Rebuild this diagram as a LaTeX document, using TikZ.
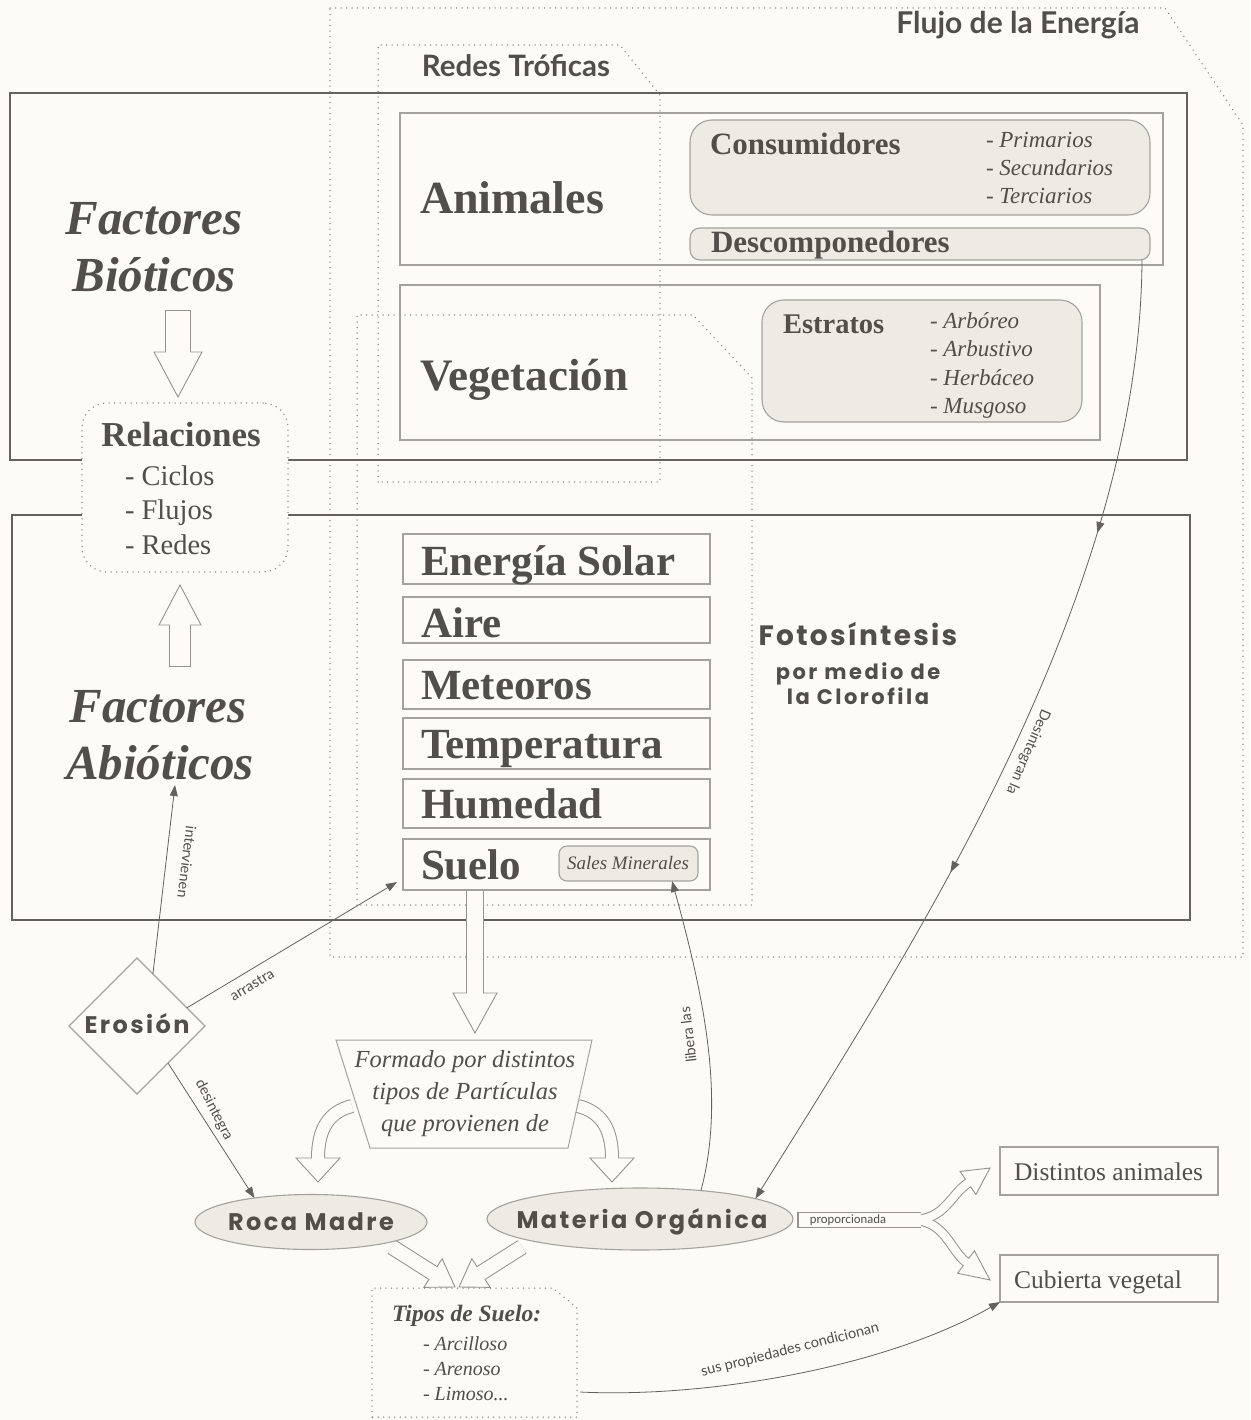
\documentclass[tikz,border=0pt]{standalone}
\usepackage{fontspec}
\setmainfont{Liberation Serif}
\newfontfamily\hsans{Lato}
\newfontfamily\geo{Poppins}
\usetikzlibrary{arrows.meta,shapes.geometric,decorations.markings,calc}
\definecolor{bg}{RGB}{252,251,246}
\definecolor{txt}{RGB}{82,78,74}
\definecolor{frm}{RGB}{100,97,94}
\definecolor{boxc}{RGB}{165,162,158}
\definecolor{boxf}{RGB}{238,235,228}
\definecolor{dotc}{RGB}{135,132,128}
\definecolor{lnc}{RGB}{100,97,94}
\definecolor{hc}{RGB}{150,147,143}
\newcommand\fsz[2]{\fontsize{#1}{#2}\selectfont}
% hollow straight arrow: start, base, tip, outer width, inner width, half head, inner start
\newcommand\harrow[7]{%
  \draw[hc, line width=#4] #1 -- #2;
  \draw[hc, line width=0.9pt, fill=bg, line join=miter] #3 -- ($#2!#6!90:#3$) -- ($#2!#6!-90:#3$) -- cycle;
  \draw[bg, line width=#5] #7 -- ($#2!1.5pt!#3$);
}
\begin{document}
\begin{tikzpicture}[x=1pt,y=-1pt,
  every node/.style={text=txt, inner sep=0pt, outer sep=0pt},
  bigframe/.style={draw=frm, line width=1.6pt},
  ibox/.style={draw=boxc, line width=1.2pt, anchor=north west},
  rbox/.style={draw=boxc, line width=1.1pt, fill=boxf, anchor=north west},
  dotf/.style={draw=dotc, line width=1.5pt, dash pattern=on 0pt off 5.5pt, line cap=round},
  conn/.style={draw=lnc, line width=0.8pt, -{Triangle[length=11pt,width=8pt]}},
  lbl/.style={font=\hsans\fsz{14.5}{16}},
  bigt/.style={font=\bfseries\fsz{43}{48}, anchor=base west},
  fact/.style={font=\bfseries\itshape\fsz{49}{52}, anchor=base},
  subt/.style={font=\bfseries\fsz{31}{34}, anchor=base west},
  listi/.style={font=\itshape\fsz{23}{26}, anchor=base west},
  geot/.style={font=\geo\bfseries\addfontfeature{LetterSpace=10}\fsz{24}{26}, anchor=base}
]
\fill[bg] (0,0) rectangle (1250,1420);
\useasboundingbox (0,0) rectangle (1250,1420);

% dotted group frames
\draw[dotf] (330,8) -- (1165,8) -- (1243,125) -- (1243,957) -- (330,957) -- cycle;
\draw[dotf] (378,482) -- (378,45) -- (620,45) -- (660,95) -- (660,482) -- cycle;
\draw[dotf] (357,905) -- (357,315) -- (693,315) -- (752,378) -- (752,905) -- cycle;

% solid frames
\draw[bigframe] (10,93) rectangle (1187,460);
\draw[bigframe] (12,515) rectangle (1190,920);

% hollow arrows
\harrow{(178,310)}{(178,352)}{(178,397)}{26pt}{24pt}{24pt}{(178,311.4)}
\harrow{(180,667)}{(180,625)}{(180,585)}{22pt}{20pt}{21pt}{(180,665.6)}
\harrow{(475,890)}{(475,993)}{(475,1033)}{18pt}{16pt}{22pt}{(475,891)}
\harrow{(392,1247)}{(433,1273)}{(455,1287)}{16pt}{14pt}{17pt}{(392,1247)}
\harrow{(522,1247)}{(481,1273)}{(459,1287)}{16pt}{14pt}{17pt}{(522,1247)}
% curved hollow arrows from the trapezoid
\draw[hc, line width=14pt] (352,1106) .. controls (328,1112) and (318,1130) .. (318,1158);
\draw[hc, line width=14pt] (578,1106) .. controls (602,1112) and (612,1130) .. (612,1158);
\draw[hc, line width=0.9pt, fill=bg, line join=miter] (318,1182) -- (296,1158) -- (340,1158) -- cycle;
\draw[hc, line width=0.9pt, fill=bg, line join=miter] (612,1182) -- (590,1158) -- (634,1158) -- cycle;
\draw[bg, line width=12pt] (352,1106) .. controls (328,1112) and (318,1130) .. (318,1158) -- (318,1159.5);
\draw[bg, line width=12pt] (578,1106) .. controls (602,1112) and (612,1130) .. (612,1158) -- (612,1159.5);
% proporcionada branching arrow
\draw[hc, line width=16pt] (797,1220) -- (921,1220);
\draw[hc, line width=10pt] (912,1220) .. controls (945,1220) and (950,1195) .. (968,1183);
\draw[hc, line width=10pt] (912,1220) .. controls (945,1220) and (950,1250) .. (966,1262);
\draw[hc, line width=0.9pt, fill=bg, line join=miter] (990,1168) -- ($(968,1183)!14pt!90:(990,1168)$) -- ($(968,1183)!14pt!-90:(990,1168)$) -- cycle;
\draw[hc, line width=0.9pt, fill=bg, line join=miter] (990,1280) -- ($(966,1262)!14pt!90:(990,1280)$) -- ($(966,1262)!14pt!-90:(990,1280)$) -- cycle;
\draw[bg, line width=14pt] (798.6,1220) -- (921,1220);
\draw[bg, line width=8pt] (912,1220) .. controls (945,1220) and (950,1195) .. (968,1183) -- ($(968,1183)!1.5pt!(990,1168)$);
\draw[bg, line width=8pt] (912,1220) .. controls (945,1220) and (950,1250) .. (966,1262) -- ($(966,1262)!1.5pt!(990,1280)$);
\node[font=\hsans\fsz{12}{12}] (prop) at (848,1220) {proporcionada};

% titles
\node[font=\hsans\bfseries\fsz{30}{32}, anchor=base] (flujo) at (1018,34) {Flujo de la Energía};
\node[font=\hsans\bfseries\fsz{29.5}{32}, anchor=base] (redes) at (516,77) {Redes Tróficas};

% factores
\node[fact] (fb1) at (154,235) {Factores};
\node[fact] (fb2) at (154,291) {Bióticos};
\node[fact] (fa1) at (158,722) {Factores};
\node[fact] (fa2) at (160,779) {Abióticos};

% animales
\node[ibox, minimum width=763pt, minimum height=152pt] (anim) at (400,113) {};
\node[bigt, font=\bfseries\fsz{46}{48}] (animt) at (420,214) {Animales};
\node[rbox, rounded corners=22pt, minimum width=460pt, minimum height=95pt] (cons) at (690,120) {};
\node[subt] (const) at (710,155) {Consumidores};
\node[listi] (c1) at (986,148) {- Primarios};
\node[listi] (c2) at (986,176) {- Secundarios};
\node[listi] (c3) at (986,204) {- Terciarios};
\node[rbox, rounded corners=10pt, minimum width=460pt, minimum height=32pt] (desc) at (690,228) {};
\node[subt] (desct) at (711,253) {Descomponedores};

% vegetacion
\node[ibox, minimum width=700pt, minimum height=155pt] (veg) at (400,285) {};
\node[bigt, font=\bfseries\fsz{45}{48}] (vegt) at (420,390) {Vegetación};
\node[rbox, rounded corners=22pt, minimum width=320pt, minimum height=122pt] (estr) at (762,300) {};
\node[subt, font=\bfseries\fsz{28.5}{30}] (estrt) at (783,333) {Estratos};
\node[listi] (e1) at (930,328) {- Arbóreo};
\node[listi] (e2) at (930,356) {- Arbustivo};
\node[listi] (e3) at (930,385) {- Herbáceo};
\node[listi] (e4) at (930,413) {- Musgoso};

% relaciones
\node[dotf, fill=bg, rounded corners=25pt, minimum width=206pt, minimum height=169pt, anchor=north west] (rel) at (82,403) {};
\node[font=\bfseries\fsz{35}{38}, anchor=base] (relt) at (181,446) {Relaciones};
\node[font=\fsz{28.5}{30}, anchor=base west] (r1) at (125,485) {- Ciclos};
\node[font=\fsz{28.5}{30}, anchor=base west] (r2) at (125,519) {- Flujos};
\node[font=\fsz{28.5}{30}, anchor=base west] (r3) at (125,554) {- Redes};

% abiotic boxes
\node[ibox, minimum width=307pt, minimum height=50pt] (sol) at (403,534) {};
\node[bigt] (solt) at (421,575) {Energía Solar};
\node[ibox, minimum width=307pt, minimum height=46pt] (aire) at (403,597) {};
\node[bigt] (airet) at (421,637) {Aire};
\node[ibox, minimum width=307pt, minimum height=49pt] (met) at (403,660) {};
\node[bigt] (mett) at (421,699) {Meteoros};
\node[ibox, minimum width=307pt, minimum height=51pt] (temp) at (403,718) {};
\node[bigt] (tempt) at (421,758) {Temperatura};
\node[ibox, minimum width=307pt, minimum height=49pt] (hum) at (403,779) {};
\node[bigt] (humt) at (421,818) {Humedad};
\node[ibox, minimum width=307pt, minimum height=51pt] (suelo) at (403,839) {};
\node[bigt] (suelot) at (421,879) {Suelo};
\node[rbox, rounded corners=8pt, minimum width=139pt, minimum height=35pt] (sales) at (559,846) {};
\node[font=\itshape\fsz{19}{21}, anchor=base] (salest) at (628,869) {Sales Minerales};

% fotosintesis
\node[font=\geo\bfseries\addfontfeature{LetterSpace=8}\fsz{28}{30}, anchor=base] (foto) at (858,645) {Fotosíntesis};
\node[font=\geo\bfseries\addfontfeature{LetterSpace=12}\fsz{21}{23}, anchor=base] (foto2) at (858,679) {por medio de};
\node[font=\geo\bfseries\addfontfeature{LetterSpace=12}\fsz{21}{23}, anchor=base] (foto3) at (858,704) {la Clorofila};

% erosion
\node[diamond, draw=boxc, line width=1.1pt, minimum width=136pt, minimum height=136pt] (ero) at (137,1026) {};
\node[geot] (erot) at (137,1033) {Erosión};

% formado trapezoid
\draw[draw=boxc, line width=1pt, fill=bg] (336,1040) -- (592,1040) -- (568,1148) -- (370,1148) -- cycle;
\node[font=\itshape\fsz{24.5}{26}, anchor=base] (f1) at (465,1067) {Formado por distintos};
\node[font=\itshape\fsz{24.5}{26}, anchor=base] (f2) at (465,1099) {tipos de Partículas};
\node[font=\itshape\fsz{24.5}{26}, anchor=base] (f3) at (465,1131) {que provienen de};

% ellipses
\node[ellipse, draw=boxc, fill=boxf, line width=1.1pt, minimum width=232pt, minimum height=55pt] (roca) at (311,1222) {};
\node[geot] (rocat) at (311,1230) {Roca Madre};
\node[ellipse, draw=boxc, fill=boxf, line width=1.1pt, minimum width=306pt, minimum height=62pt] (mat) at (640,1219) {};
\node[geot] (matt) at (642,1228) {Materia Orgánica};

% tipos de suelo
\draw[dotf] (372,1417) -- (372,1288) -- (553,1288) -- (577,1308) -- (577,1417) -- cycle;
\coordinate (tiposR) at (580,1392);
\node[font=\bfseries\itshape\fsz{23.5}{26}, anchor=base west] (tipt) at (392,1321) {Tipos de Suelo:};
\node[font=\itshape\fsz{20}{22}, anchor=base west] (t1) at (423,1350) {- Arcilloso};
\node[font=\itshape\fsz{20}{22}, anchor=base west] (t2) at (423,1375) {- Arenoso};
\node[font=\itshape\fsz{20}{22}, anchor=base west] (t3) at (423,1400) {- Limoso...};

% result boxes
\node[ibox, minimum width=218pt, minimum height=48pt] (dist) at (1000,1147) {};
\node[font=\fsz{25.5}{27}, anchor=base west] (distt) at (1014,1180) {Distintos animales};
\node[ibox, minimum width=218pt, minimum height=47pt] (cub) at (1000,1255) {};
\node[font=\fsz{25.5}{27}, anchor=base west] (cubt) at (1014,1288) {Cubierta vegetal};

% connectors
\coordinate (abioT) at (175,785);
\coordinate (arrT) at (397,882);
\draw[conn] (ero.73) -- (abioT);
\draw[conn] (ero.20) -- (arrT);
\draw[conn] (ero.-50) -- (roca.157);
\draw[conn] (mat.25) .. controls (725,1100) and (705,1000) .. ($(sales.south east)+(-26,0)$);
\draw[conn, postaction={decorate}, decoration={markings,
   mark=at position 0.27 with {\arrow{Triangle[length=11pt,width=8pt]}},
   mark=at position 0.63 with {\arrow{Triangle[length=11pt,width=8pt]}}}]
   ($(desc.south east)+(-8,0)$) .. controls (1140,600) and (910,950) .. (mat.10);
\draw[conn] (tiposR) .. controls (700,1398) and (880,1370) .. (cub.south west);

% connector labels
\node[lbl, rotate=-97] (l1) at (187,862) {intervienen};
\node[lbl, rotate=31] (l2) at (252,985) {arrastra};
\node[lbl, rotate=-63] (l3) at (214,1110) {desintegra};
\node[lbl, rotate=97] (l4) at (688,1035) {libera las};
\node[lbl, rotate=-113] (l5) at (1028,752) {Desintegran la};
\node[lbl, rotate=14] (l6) at (790,1350) {sus propiedades condicionan};
\end{tikzpicture}
\end{document}
